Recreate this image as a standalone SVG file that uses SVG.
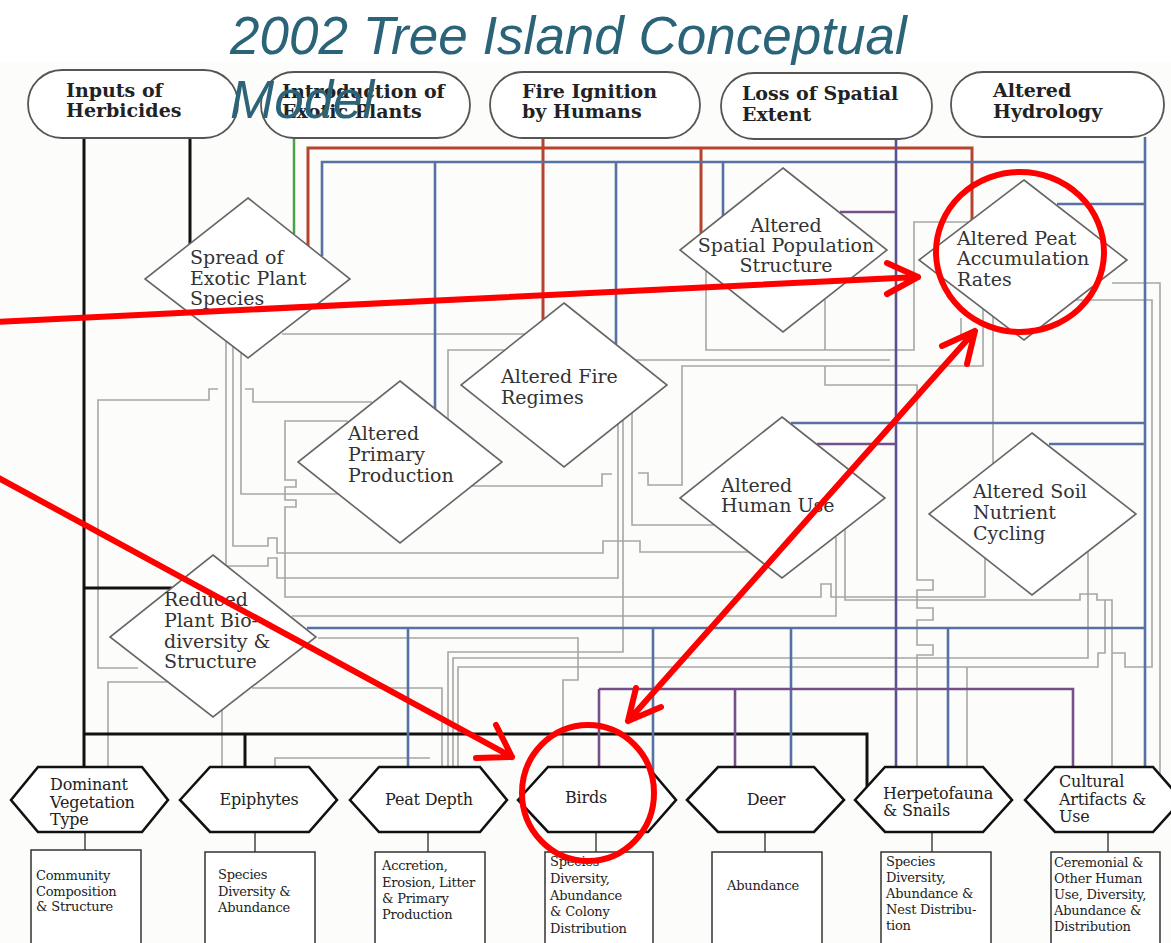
<svg xmlns="http://www.w3.org/2000/svg" width="1171" height="943" viewBox="0 0 1171 943">
<style>
.ov{fill:#fff;stroke:#555;stroke-width:1.8}
.dm{fill:#fff;stroke:#666;stroke-width:1.6}
.hx{fill:#fff;stroke:#111;stroke-width:2.6}
.bx{fill:#fff;stroke:#333;stroke-width:1.5}
.tb{font-family:'DejaVu Serif',serif;font-weight:bold;font-size:19px;fill:#222}
.td{font-family:'DejaVu Serif',serif;font-size:19px;fill:#333}
.th{font-family:'DejaVu Serif',serif;font-size:16px;letter-spacing:-0.2px;fill:#222}
.ts{font-family:'DejaVu Serif',serif;font-size:13px;letter-spacing:-0.2px;fill:#222}
.g path{fill:none;stroke:#a6a6a6;stroke-width:1.6}
.k{fill:none;stroke:#111;stroke-width:3}
.r{fill:none;stroke:#b5432f;stroke-width:3}
.b{fill:none;stroke:#5671a3;stroke-width:2.6}
.p{fill:none;stroke:#74508a;stroke-width:2.6}
.pb{fill:none;stroke:#5a5290;stroke-width:2.6}
.gr{fill:none;stroke:#4aa345;stroke-width:2.5}
.st{fill:none;stroke:#444;stroke-width:1.5}
.an{fill:none;stroke:#ff0000;stroke-width:6;stroke-linecap:round;stroke-linejoin:round}
.title{font-family:'Liberation Sans',Arial,sans-serif;font-style:italic;font-size:53px;fill:#2b6379}
</style>
<rect width="1171" height="943" fill="#fff"/>
<rect x="0" y="62" width="1171" height="881" fill="#fcfcfa"/>

<g id="connectors">
 <g class="g">
  <path d="M218 389H209V400H98V668H138"/>
  <path d="M245 389H253V402H372"/>
  <path d="M348 421H285V480H296V487H285V500H296V507H285V597H821V584H831V597H985V558"/>
  <path d="M241 352V494H338"/>
  <path d="M226 341V566H268V558H277V578H618V424"/>
  <path d="M233 346V546H268V538H277V553H603V541H640V552H749"/>
  <path d="M292 616H836V537"/>
  <path d="M282 334H525"/>
  <path d="M505 350H448V486H602V474H612"/>
  <path d="M623 420V652H448V767"/>
  <path d="M1088 551V658H453V767"/>
  <path d="M1105 600V653H1098V667H458V767"/>
  <path d="M167 682H108V767"/>
  <path d="M222 710V767"/>
  <path d="M252 688H442V767"/>
  <path d="M275 767V758H430"/>
  <path d="M318 638H578V680H563V767"/>
  <path d="M969 222H914V350H706V271"/>
  <path d="M825 299V350"/>
  <path d="M983 309V366H682V485H648V473H638"/>
  <path d="M714 525H632V360H890"/>
  <path d="M993 463V300H1152V667H1125V653H1112"/>
  <path d="M1112 283H1160V775"/>
  <path d="M825 366V385H917V580H933V590H917V608H933V620H917V645H933V655H917V767"/>
  <path d="M845 529V600H1080V594H1097V600H1112V767"/>
  <path d="M967 667V767"/>
  <path d="M961 318V340"/>
 </g>
 <path class="k" d="M84 138V767"/>
 <path class="k" d="M190 138V244"/>
 <path class="k" d="M84 588H172"/>
 <path class="k" d="M84 734H867V787"/>
 <path class="k" d="M245 734V767"/>
 <path class="gr" d="M294 138V234"/>
 <path class="r" d="M308 246V148H972V220"/>
 <path class="r" d="M701 148V233"/>
 <path class="r" d="M543 138V320"/>
 <path class="b" d="M322 256V162H1145"/>
 <path class="b" d="M435 162V409"/>
 <path class="b" d="M616 162V344"/>
 <path class="b" d="M723 162V216"/>
 <path class="b" d="M1145 137V767"/>
 <path class="b" d="M1057 204H1145"/>
 <path class="b" d="M791 423H1145"/>
 <path class="b" d="M1049 444H1145"/>
 <path class="b" d="M307 628H1145"/>
 <path class="b" d="M408 628V767"/>
 <path class="b" d="M653 628V776"/>
 <path class="b" d="M791 628V767"/>
 <path class="b" d="M948 628V767"/>
 <path class="pb" d="M896 139V767"/>
 <path class="p" d="M840 212H896"/>
 <path class="p" d="M817 444H896"/>
 <path class="p" d="M599 689H1073V767"/>
 <path class="p" d="M599 689V767"/>
 <path class="p" d="M735 689V767"/>
 <path class="st" d="M85 832V850M255 832V852M428 832V852M596 832V852M765 832V852M932 832V852M1108 832V852"/>
</g>

<g id="n-herbicides"><rect class="ov" x="28" y="70" width="210" height="68" rx="34"/><text class="tb"><tspan x="66" y="97">Inputs of</tspan><tspan x="66" y="117">Herbicides</tspan></text></g>
<g id="n-exotic-intro"><rect class="ov" x="261" y="72" width="209" height="66" rx="33"/><text class="tb"><tspan x="282" y="98">Introduction of</tspan><tspan x="282" y="118">Exotic Plants</tspan></text></g>
<g id="n-fire-ignition"><rect class="ov" x="490" y="72" width="210" height="66" rx="33"/><text class="tb"><tspan x="522" y="98">Fire Ignition</tspan><tspan x="522" y="118">by Humans</tspan></text></g>
<g id="n-spatial-loss"><rect class="ov" x="721" y="73" width="211" height="66" rx="33"/><text class="tb"><tspan x="742" y="100">Loss of Spatial</tspan><tspan x="742" y="121">Extent</tspan></text></g>
<g id="n-hydrology"><rect class="ov" x="951" y="72" width="213" height="65" rx="32"/><text class="tb"><tspan x="993" y="97">Altered</tspan><tspan x="993" y="118">Hydrology</tspan></text></g>

<g id="n-spread"><polygon class="dm" points="248,198 350,279 248,358 145,279"/><text class="td"><tspan x="190" y="264">Spread of</tspan><tspan x="190" y="285">Exotic Plant</tspan><tspan x="190" y="305">Species</tspan></text></g>
<g id="n-spatial-pop"><polygon class="dm" points="783,168 887,250 783,332 680,250"/><text class="td" text-anchor="middle"><tspan x="786" y="232">Altered</tspan><tspan x="786" y="252">Spatial Population</tspan><tspan x="786" y="272">Structure</tspan></text></g>
<g id="n-peat-acc"><polygon class="dm" points="1024,180 1127,260 1024,340 919,260"/><text class="td"><tspan x="957" y="245">Altered Peat</tspan><tspan x="957" y="265">Accumulation</tspan><tspan x="957" y="286">Rates</tspan></text></g>
<g id="n-fire-regimes"><polygon class="dm" points="564,303 667,385 564,467 461,385"/><text class="td"><tspan x="501" y="383">Altered Fire</tspan><tspan x="501" y="404">Regimes</tspan></text></g>
<g id="n-primary"><polygon class="dm" points="400,381 502,462 400,543 298,462"/><text class="td"><tspan x="348" y="440">Altered</tspan><tspan x="348" y="461">Primary</tspan><tspan x="348" y="482">Production</tspan></text></g>
<g id="n-human-use"><polygon class="dm" points="782,417 885,498 782,578 680,498"/><text class="td"><tspan x="721" y="492">Altered</tspan><tspan x="721" y="512">Human Use</tspan></text></g>
<g id="n-soil"><polygon class="dm" points="1032,433 1136,514 1032,595 929,514"/><text class="td"><tspan x="973" y="498">Altered Soil</tspan><tspan x="973" y="519">Nutrient</tspan><tspan x="973" y="540">Cycling</tspan></text></g>
<g id="n-reduced"><polygon class="dm" points="213,555 316,637 213,717 110,637"/><text class="td"><tspan x="164" y="606">Reduced</tspan><tspan x="164" y="627">Plant Bio-</tspan><tspan x="164" y="648">diversity &amp;</tspan><tspan x="164" y="668">Structure</tspan></text></g>

<g id="h-dominant"><polygon class="hx" points="11,800 38,767 142,767 168,800 142,832 38,832"/><text class="th"><tspan x="50" y="790">Dominant</tspan><tspan x="50" y="808">Vegetation</tspan><tspan x="50" y="825">Type</tspan></text></g>
<g id="h-epiphytes"><polygon class="hx" points="180,800 210,767 309,767 337,800 309,832 210,832"/><text class="th" x="259" y="805" text-anchor="middle">Epiphytes</text></g>
<g id="h-peat-depth"><polygon class="hx" points="350,800 379,767 480,767 507,800 480,832 379,832"/><text class="th" x="429" y="805" text-anchor="middle">Peat Depth</text></g>
<g id="h-birds"><polygon class="hx" points="518,800 548,767 648,767 676,800 648,832 548,832"/><text class="th" x="586" y="803" text-anchor="middle">Birds</text></g>
<g id="h-deer"><polygon class="hx" points="687,800 718,767 814,767 844,800 814,832 718,832"/><text class="th" x="766" y="805" text-anchor="middle">Deer</text></g>
<g id="h-herpeto"><polygon class="hx" points="855,800 885,767 983,767 1012,800 983,832 885,832"/><text class="th"><tspan x="883" y="799">Herpetofauna</tspan><tspan x="883" y="816">&amp; Snails</tspan></text></g>
<g id="h-cultural"><polygon class="hx" points="1025,800 1055,767 1153,767 1182,800 1153,832 1055,832"/><text class="th"><tspan x="1059" y="787">Cultural</tspan><tspan x="1059" y="805">Artifacts &amp;</tspan><tspan x="1059" y="822">Use</tspan></text></g>

<g id="m-dominant"><rect class="bx" x="31" y="850" width="110" height="100"/><text class="ts"><tspan x="36" y="880">Community</tspan><tspan x="36" y="896">Composition</tspan><tspan x="36" y="911">&amp; Structure</tspan></text></g>
<g id="m-epiphytes"><rect class="bx" x="205" y="852" width="110" height="98"/><text class="ts"><tspan x="218" y="879">Species</tspan><tspan x="218" y="896">Diversity &amp;</tspan><tspan x="218" y="912">Abundance</tspan></text></g>
<g id="m-peat"><rect class="bx" x="375" y="852" width="110" height="98"/><text class="ts"><tspan x="382" y="870">Accretion,</tspan><tspan x="382" y="887">Erosion, Litter</tspan><tspan x="382" y="903">&amp; Primary</tspan><tspan x="382" y="919">Production</tspan></text></g>
<g id="m-birds"><rect class="bx" x="545" y="852" width="108" height="98"/><text class="ts"><tspan x="550" y="866">Species</tspan><tspan x="550" y="883">Diversity,</tspan><tspan x="550" y="900">Abundance</tspan><tspan x="550" y="916">&amp; Colony</tspan><tspan x="550" y="933">Distribution</tspan></text></g>
<g id="m-deer"><rect class="bx" x="712" y="852" width="110" height="98"/><text class="ts" x="763" y="890" text-anchor="middle">Abundance</text></g>
<g id="m-herpeto"><rect class="bx" x="881" y="852" width="110" height="98"/><text class="ts"><tspan x="886" y="866">Species</tspan><tspan x="886" y="882">Diversity,</tspan><tspan x="886" y="898">Abundance &amp;</tspan><tspan x="886" y="914">Nest Distribu-</tspan><tspan x="886" y="930">tion</tspan></text></g>
<g id="m-cultural"><rect class="bx" x="1051" y="852" width="109" height="98"/><text class="ts"><tspan x="1054" y="867">Ceremonial &amp;</tspan><tspan x="1054" y="883">Other Human</tspan><tspan x="1054" y="899">Use, Diversity,</tspan><tspan x="1054" y="915">Abundance &amp;</tspan><tspan x="1054" y="931">Distribution</tspan></text></g>

<g id="annotations">
 <path class="an" d="M-5 322L918 277M887 263L918 277L887 294"/>
 <path class="an" d="M-5 476L512 757M476 758L512 757L496 725"/>
 <path class="an" d="M628 721L975 331M942 346L975 331L967 364M636 688L628 721L661 707"/>
 <ellipse class="an" cx="1020" cy="252" rx="84" ry="80"/>
 <ellipse class="an" cx="588" cy="793" rx="66" ry="68"/>
</g>

<g id="title">
 <text class="title" x="230" y="54">2002 Tree Island Conceptual</text>
 <text class="title" x="230" y="118">Model</text>
</g>
</svg>
